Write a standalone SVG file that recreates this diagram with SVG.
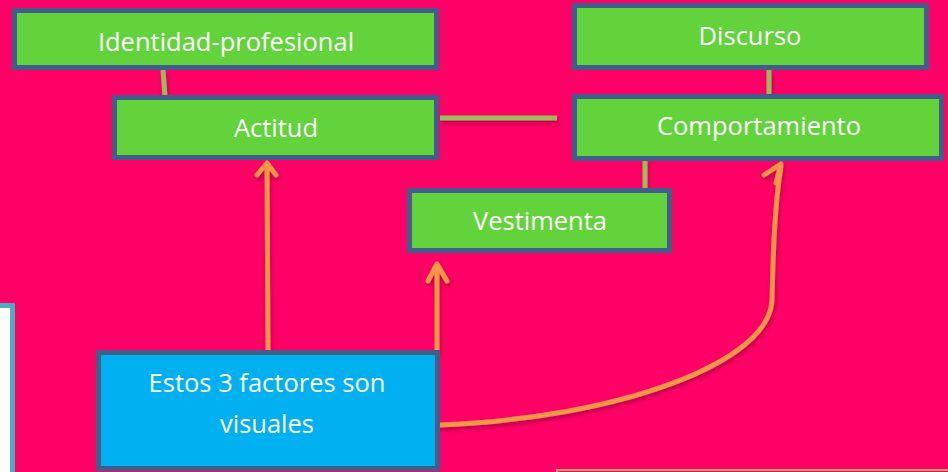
<svg xmlns="http://www.w3.org/2000/svg" width="948" height="472" viewBox="0 0 948 472">
<defs>
<style>
.box{fill:#62D33A;stroke:#3F5F8A;stroke-width:5}
.blue{fill:#00B0F0;stroke:#3F5F8A;stroke-width:5}
.t{font-family:"Open Sans","Liberation Sans",sans-serif;font-size:25.5px;fill:#ffffff;text-anchor:middle;font-variant-ligatures:none}
.ln{stroke:#9BBB59;stroke-width:5;fill:none}
.ar{stroke:#F79646;stroke-width:5;fill:none;stroke-linecap:round;stroke-linejoin:round}
</style>
<filter id="sh" x="-20%" y="-20%" width="140%" height="160%">
<feDropShadow dx="1" dy="3" stdDeviation="2" flood-color="#7a0033" flood-opacity="0.5"/>
</filter>
</defs>
<rect width="948" height="472" fill="#FF0066"/>
<g id="left-box"><rect x="-10" y="305.5" width="22.5" height="180" fill="#ffffff" stroke="#4BACC6" stroke-width="5"/></g>
<g id="bottom-box"><rect x="557" y="470" width="400" height="20" fill="#FF0066" stroke="#F7A860" stroke-width="2"/></g>
<g id="connectors" filter="url(#sh)">
<line class="ln" x1="163" y1="70" x2="165" y2="97"/>
<line class="ln" x1="440" y1="118" x2="557" y2="118"/>
<line class="ln" x1="769" y1="70" x2="769" y2="94"/>
<line class="ln" x1="645" y1="160" x2="645" y2="188"/>
<path class="ar" d="M268 350 L267 164 M257 175 L267 163 L276 175"/>
<path class="ar" d="M437 350 L437 264 M428 281 L437 264 L447 281"/>
<path class="ar" d="M440 425 C 620 418 770 362 772 300 C 773 260 774 210 781 166 M764 175 L781 164 L776 183"/>
</g>
<g id="identidad"><rect class="box" x="14.5" y="10.5" width="422" height="57"/><text class="t" x="226" y="51">Identidad-profesional</text></g>
<g id="actitud"><rect class="box" x="114.5" y="97.5" width="322" height="60"/><text class="t" x="276" y="137">Actitud</text></g>
<g id="discurso"><rect class="box" x="574.5" y="5.5" width="352" height="62"/><text class="t" x="750" y="45">Discurso</text></g>
<g id="comportamiento"><rect class="box" x="574.5" y="96.5" width="367" height="62"/><text class="t" x="759" y="135">Comportamiento</text></g>
<g id="vestimenta"><rect class="box" x="409.5" y="190.5" width="260" height="60"/><text class="t" x="540" y="230">Vestimenta</text></g>
<g id="estos"><rect class="blue" x="98.5" y="352.5" width="339" height="116"/><text class="t" x="267" y="392">Estos 3 factores son</text><text class="t" x="267" y="433">visuales</text></g>
</svg>
